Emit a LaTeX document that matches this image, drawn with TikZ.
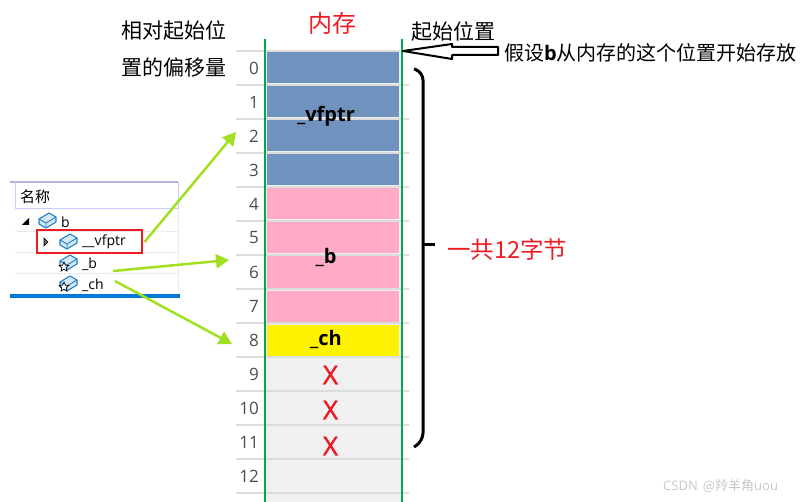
\documentclass[tikz,border=0pt]{standalone}
\usepackage{fontspec}
\setmainfont{Noto Sans CJK SC}
\newfontfamily\latinfont{Open Sans}
\newfontfamily\crossfont[FakeBold=1.6]{Open Sans}
\usetikzlibrary{arrows.meta,shapes.geometric}
\definecolor{vfblue}{HTML}{6F93BE}
\definecolor{bpink}{HTML}{FFABC6}
\definecolor{chyellow}{HTML}{FFF200}
\definecolor{emptygray}{HTML}{F0F0F0}
\definecolor{rulegray}{HTML}{DCDCDC}
\definecolor{memgreen}{HTML}{00A651}
\definecolor{markred}{HTML}{ED1C24}
\definecolor{linkgreen}{HTML}{A0E020}
\definecolor{iconblue}{HTML}{1F7FC8}
\definecolor{panelblue}{HTML}{0078D7}
\begin{document}
\begin{tikzpicture}[
    x=1pt, y=-1pt,
    cell/.style={rectangle, inner sep=0pt, minimum width=132pt, minimum height=31pt},
    offset/.style={anchor=east, text=black!70, font=\fontsize{17}{17}\selectfont\latinfont, inner sep=0pt},
    note/.style={anchor=west, inner sep=0pt, font=\fontsize{21}{21}\selectfont},
    field/.style={inner sep=0pt, font=\fontsize{20}{20}\selectfont\latinfont\bfseries},
    cross/.style={inner sep=0pt, text=markred, font=\fontsize{26}{26}\selectfont\crossfont},
    treetext/.style={anchor=west, inner sep=0pt, font=\fontsize{14}{14}\selectfont\latinfont},
    badge/.style={star, star points=5, star point ratio=2.2, draw=black, fill=white, inner sep=0pt, minimum size=10pt, line width=.7pt},
    link/.style={-{Triangle[length=13pt,width=14pt]}, linkgreen, line width=2.5pt}
  ]
    \useasboundingbox (0,0) rectangle (802,502);

    % Memory rows
    \fill[emptygray] (266,51) rectangle (401,502);
    \foreach \row/\col in {0/vfblue,1/vfblue,2/vfblue,3/vfblue,4/bpink,5/bpink,6/bpink,7/bpink}
      \node[cell, fill=\col] (row\row) at (333,{68+34*\row}) {};
    \node[cell, fill=chyellow, minimum height=33pt] (row8) at (333,341) {};
    \foreach \row in {0,...,13}
      \draw[rulegray, line width=1.2pt] (236,{51+34*\row}) -- (409,{51+34*\row});
    \foreach \row in {0,...,12}
      \node[offset] (off\row) at (259,{68+34*\row}) {\row};

    % Field names
    \node[field] (vfptr) at (326,116) {\_vfptr};
    \node[field] (bfield) at (326,257) {\_b};
    \node[field] (chfield) at (326,339) {\_ch};
    \node[cross] (x9) at (330.5,375) {X};
    \node[cross] (x10) at (330.5,410) {X};
    \node[cross] (x11) at (330.5,446) {X};

    % Memory borders
    \draw[memgreen, line width=1.8pt] (265,39) -- (265,502);
    \draw[memgreen, line width=1.8pt] (402,39) -- (402,502);

    % Headings
    \node[note, anchor=center, text=markred, font=\fontsize{24}{24}\selectfont] (memory) at (332,23) {内存};
    \node[note] (rel1) at (121,31) {相对起始位};
    \node[note] (rel2) at (121,68) {置的偏移量};
    \node[note] (start) at (411,32) {起始位置};
    \node[note, font=\fontsize{20}{20}\selectfont] (assume) at (504,53) {假设{\latinfont\bfseries b}从内存的这个位置开始存放};

    % Start arrow
    \coordinate (tip) at (403,51);
    \draw[black, line width=2pt, line join=round, fill=white] (tip) -- (452,44) -- (452,47) -- (498,47) -- (498,55) -- (452,55) -- (452,59) -- cycle;

    % Brace
    \draw[black, line width=3pt, rounded corners=8pt] (414,69) -- (423,72) -- (423,245);
    \draw[black, line width=3pt] (423,245) -- (435,245);
    \draw[black, line width=3pt, rounded corners=8pt] (423,245) -- (423,441) -- (414,447);
    \node[note, text=markred, font=\fontsize{23.5}{23.5}\selectfont] (total) at (447,250) {一共12字节};

    % Tree panel
    \draw[black!40!blue!30, line width=1.4pt] (10,182) -- (178,182);
    \draw[black!10!blue!20, line width=1pt] (15,182) -- (15,209) -- (178,209) -- (178,182);
    \draw[black!8, line width=.6pt] (178,209) -- (178,293);
    \foreach \rowy in {231,252,273}
      \draw[black!8, line width=.6pt] (15,\rowy) -- (178,\rowy);
    \draw[panelblue, line width=4pt] (10,296) -- (180,296);
    \node[note, font=\fontsize{15}{15}\selectfont] (name) at (20,197) {名称};
    \foreach \ix/\iy in {47/221,68/242,68/263,68/284} {
      \draw[iconblue, line width=1.1pt, fill=iconblue!18, line join=round] (\ix-8,\iy-2) -- (\ix+2,\iy-8) -- (\ix+9,\iy-4) -- (\ix+9,\iy+1) -- (\ix-1,\iy+7) -- (\ix-8,\iy+3) -- cycle;
      \draw[iconblue, line width=.9pt] (\ix-8,\iy-2) -- (\ix-1,\iy+2) -- (\ix+9,\iy-4) (\ix-1,\iy+2) -- (\ix-1,\iy+7);
    }
    \node[badge] (badgeb) at (64,267) {};
    \node[badge] (badgech) at (64,287) {};
    \fill[black] (22,225) -- (29,218) -- (29,225) -- cycle;
    \draw[black, fill=black!60, line width=.6pt] (44,238) -- (48,242) -- (44,246) -- cycle;
    \node[treetext] (treeb) at (61,222) {b};
    \node[treetext] (treevf) at (82,242) {\_\_vfptr};
    \node[treetext] (treeb2) at (82,264) {\_b};
    \node[treetext] (treech) at (82,285) {\_ch};
    \node[draw=markred, line width=2pt, rectangle, minimum width=105pt, minimum height=23pt, inner sep=0pt] (vfbox) at (89,242) {};

    % Links to memory
    \coordinate (vfend) at (236,132);
    \coordinate (bend) at (229,260);
    \coordinate (chend) at (232,344);
    \coordinate (bstart) at (113,271);
    \coordinate (chstart) at (115,281);
    \draw[link] ([xshift=2pt]vfbox.east) -- (vfend);
    \draw[link] (bstart) -- (bend);
    \draw[link] (chstart) -- (chend);

    % Watermark
    \node[anchor=west, inner sep=0pt, text=black!22, font=\fontsize{13}{13}\selectfont] (mark) at (663,486) {{\latinfont CSDN} \,@羚羊角{\latinfont uou}};
  \end{tikzpicture}
\end{document}
